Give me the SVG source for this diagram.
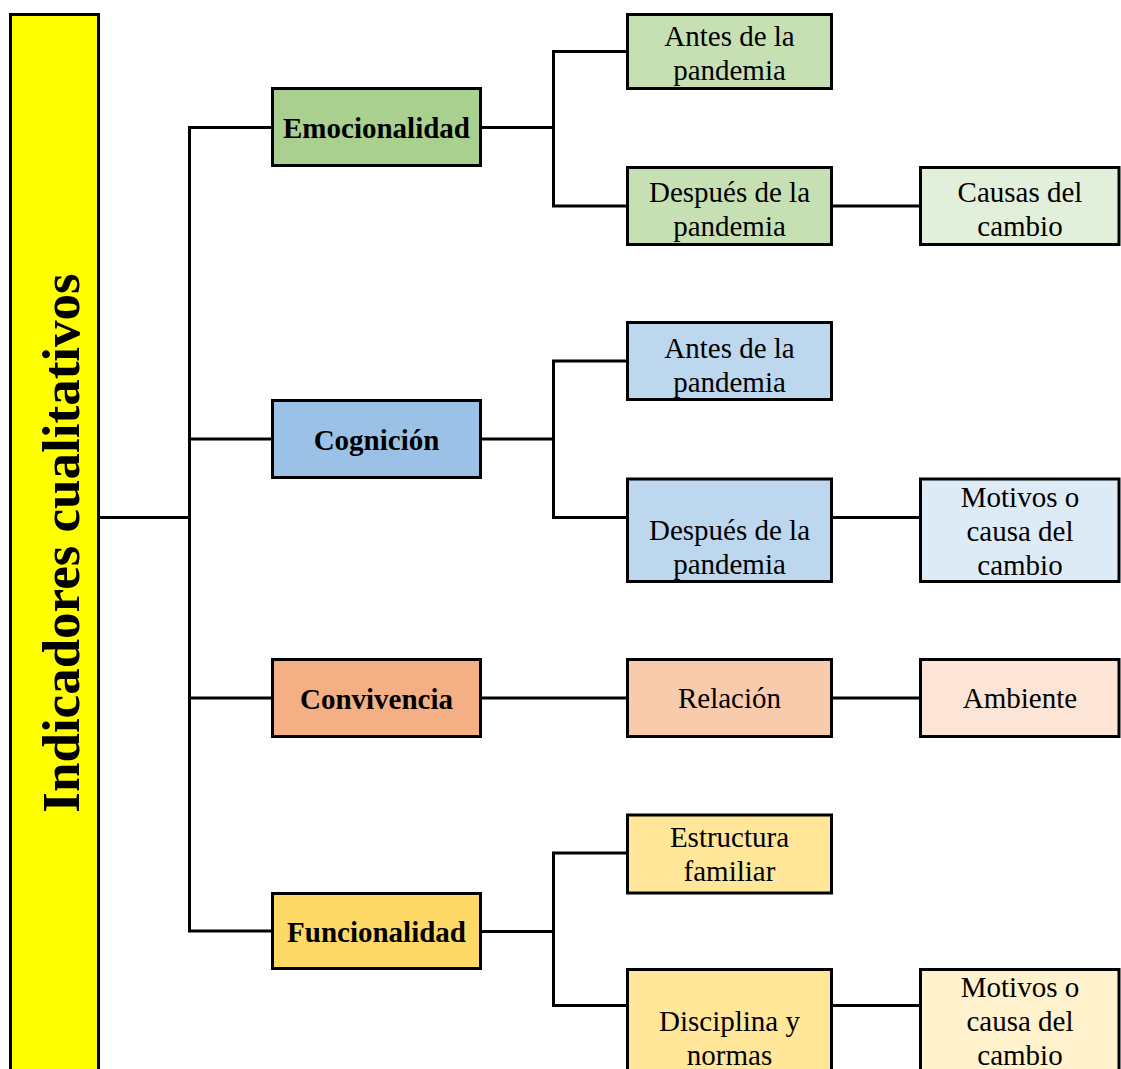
<svg xmlns="http://www.w3.org/2000/svg" width="1121" height="1069" viewBox="0 0 1121 1069">
<style>
rect{stroke:#000;stroke-width:3}
text{font-family:"Liberation Serif","Times New Roman",serif;font-size:29px;fill:#000;text-anchor:middle}
.b{font-weight:bold}
#connectors path{fill:none;stroke:#000;stroke-width:3}
</style>
<rect width="1121" height="1069" fill="#fff" style="stroke:none"/>
<g id="connectors">
<path d="M99 517.5H189.5M189.5 126V931.5M188 127.5H272M188 439H272M188 698H272M188 931H272"/>
<path d="M481 127.5H553.5M553.5 50V206M552 51.5H627M552 206H627M832 206H920"/>
<path d="M481 439H553.5M553.5 360V518M552 361H627M552 517.5H627M832 517.5H920"/>
<path d="M481 698H627M832 698H920"/>
<path d="M481 931.5H553.5M553.5 852V1005.5M552 853H627M552 1005.5H627M832 1005.5H920"/>
</g>
<g id="root">
<rect x="10.5" y="14.5" width="88" height="1070" fill="#ffff00"/>
<text class="b" transform="translate(79,543) rotate(-90)" style="font-size:53px">Indicadores cualitativos</text>
</g>
<g id="emocionalidad">
<rect x="272.5" y="88.5" width="208" height="77" fill="#a9d08e"/>
<text class="b" x="376.5" y="137.5">Emocionalidad</text>
</g>
<g id="emo-antes">
<rect x="627.5" y="14.5" width="204" height="74" fill="#c6e0b4"/>
<text x="729.5" y="46">Antes de la</text>
<text x="729.5" y="80">pandemia</text>
</g>
<g id="emo-despues">
<rect x="627.5" y="167.5" width="204" height="77" fill="#c6e0b4"/>
<text x="729.5" y="202">Después de la</text>
<text x="729.5" y="236">pandemia</text>
</g>
<g id="emo-causas">
<rect x="920.5" y="167.5" width="198.5" height="77" fill="#e2efda"/>
<text x="1020" y="202">Causas del</text>
<text x="1020" y="236">cambio</text>
</g>
<g id="cognicion">
<rect x="272.5" y="400.5" width="208" height="77" fill="#9bc2e6"/>
<text class="b" x="376.5" y="450">Cognición</text>
</g>
<g id="cog-antes">
<rect x="627.5" y="322.5" width="204" height="77" fill="#bdd7ee"/>
<text x="729.5" y="358">Antes de la</text>
<text x="729.5" y="392">pandemia</text>
</g>
<g id="cog-despues">
<rect x="627.5" y="479" width="204" height="102.5" fill="#bdd7ee"/>
<text x="729.5" y="540">Después de la</text>
<text x="729.5" y="574">pandemia</text>
</g>
<g id="cog-motivos">
<rect x="920.5" y="479" width="198.5" height="102.5" fill="#ddebf7"/>
<text x="1020" y="507">Motivos o</text>
<text x="1020" y="541">causa del</text>
<text x="1020" y="575">cambio</text>
</g>
<g id="convivencia">
<rect x="272.5" y="659.5" width="208" height="77" fill="#f4b084"/>
<text class="b" x="376.5" y="709">Convivencia</text>
</g>
<g id="conv-relacion">
<rect x="627.5" y="659.5" width="204" height="77" fill="#f8cbad"/>
<text x="729.5" y="708">Relación</text>
</g>
<g id="conv-ambiente">
<rect x="920.5" y="659.5" width="198.5" height="77" fill="#fce4d6"/>
<text x="1020" y="708">Ambiente</text>
</g>
<g id="funcionalidad">
<rect x="272.5" y="893.5" width="208" height="75" fill="#ffd966"/>
<text class="b" x="376.5" y="942">Funcionalidad</text>
</g>
<g id="fun-estructura">
<rect x="627.5" y="815" width="204" height="78" fill="#ffe699"/>
<text x="729.5" y="847">Estructura</text>
<text x="729.5" y="881">familiar</text>
</g>
<g id="fun-disciplina">
<rect x="627.5" y="969.5" width="204" height="110" fill="#ffe699"/>
<text x="729.5" y="1031">Disciplina y</text>
<text x="729.5" y="1065">normas</text>
</g>
<g id="fun-motivos">
<rect x="920.5" y="969.5" width="198.5" height="110" fill="#fff2cc"/>
<text x="1020" y="997">Motivos o</text>
<text x="1020" y="1031">causa del</text>
<text x="1020" y="1065">cambio</text>
</g>
</svg>
